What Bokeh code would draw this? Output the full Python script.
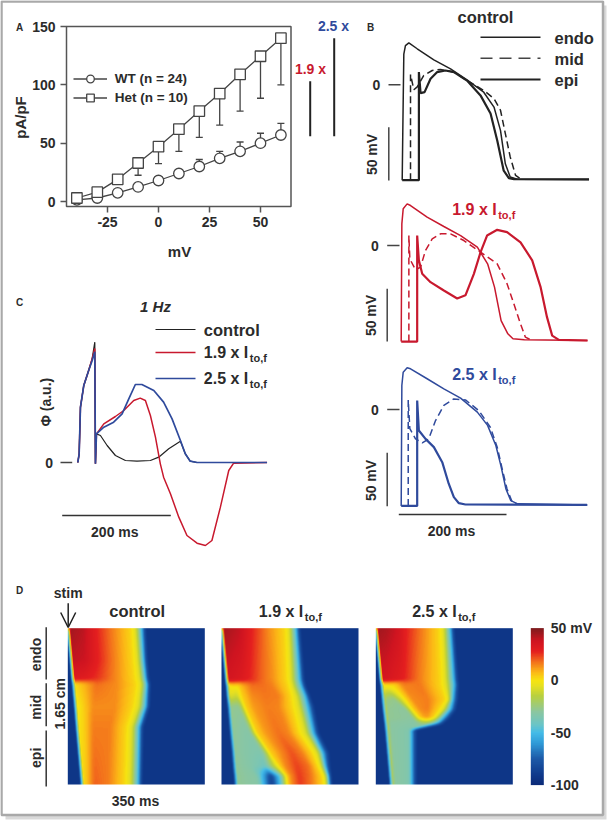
import math
import numpy as np
from bokeh.plotting import figure
from bokeh.embed import file_html
from bokeh.resources import INLINE
from bokeh.core.properties import value
from bokeh.models import (Range1d, LinearAxis, FixedTicker, Whisker, TeeHead, ColumnDataSource,
                          Legend, LegendItem, LinearColorMapper, ColorBar, Arrow, OpenHead)

# ---------- Panel A ----------
voltage = [-40, -30, -20, -10, 0, 10, 20, 30, 40, 50, 60]
wt_current = [1.4, 3, 7.4, 12.5, 18, 24, 30, 37, 43, 50, 57]
wt_upper = [1.4, 3, 7.4, 12.5, 18, 24, 36, 43, 51, 58.5, 67]
het_current = [3, 8, 19, 33, 47, 62, 77.5, 92.5, 109, 124.5, 140]
het_lower = [3, 8, 15, 22.5, 32.5, 43, 55, 65.5, 77.5, 88.5, 100]
a_xticks = [-25, 0, 25, 50]
a_yticks = [0, 50, 100, 150]
bar_19x = [56, 103]
bar_25x = [56, 140]

# ---------- Panel B (ms, mV) ----------
ctl_endo_t = [0, 1.2, 3, 6, 12.3, 27.8, 58.6, 89.5, 120, 151, 170, 182, 191, 200, 213, 346]
ctl_endo_v = [-90, -40, 29, 37, 39.6, 34, 23.6, 15, 4.7, -7, -21, -43, -74.5, -87, -89, -89.3]
ctl_mid_t = [15.4, 15.4, 21.6, 27.8, 40, 55.6, 71, 95.7, 120, 151, 170, 182, 191, 200, 210, 219]
ctl_mid_v = [-90, 9.7, -4.7, -2, 8.8, 13.5, 14.5, 12, 4, -5.3, -13, -24, -46, -68, -85.5, -88.7]
ctl_epi_t = [0, 30.9, 30.9, 34, 41.4, 52.5, 64.8, 80, 95.7, 120, 145, 163.6, 176, 188, 197.5, 207, 346]
ctl_epi_v = [-90, -90, 12, -7.9, -6.9, 5.7, 12, 13.5, 12, 4, -10, -27, -52.5, -81, -88, -89, -89.3]

r19_endo_t = [0, 1.2, 3.7, 11, 17.3, 48, 79, 110, 141, 160, 172.8, 185, 197.5, 207, 228, 345]
r19_endo_v = [-90.6, 20.4, 34.6, 39.3, 37.7, 26.7, 17.9, 9.4, -1.6, -17.3, -39.3, -70.8, -83.3, -88, -89, -89.6]
r19_mid_t = [14.2, 14.2, 16, 26.5, 35.8, 45, 57.4, 72.8, 91.4, 116, 147, 177.8, 196, 208.6, 221, 230, 242.6]
r19_mid_v = [-90.6, 9.4, -12.6, -23, -20.4, -4.7, 6.3, 11, 11, 4.7, -6.3, -17.3, -36, -55, -74, -86.5, -89.6]
r19_epi_t = [0, 29.6, 29.6, 32.7, 38.9, 54.3, 79, 103.7, 119, 134.6, 147, 159, 177.8, 196, 221, 242.6, 258, 270, 279.6, 292, 345]
r19_epi_v = [-90.6, -90.6, 9.4, -14, -26.7, -34.6, -42.5, -50, -47, -26.7, -6.3, 9.4, 14.8, 12.6, 3, -14, -39, -67.6, -85, -89, -89.6]

b25_endo_t = [0, 1.2, 3.7, 11, 17.3, 48, 79, 110, 141, 160, 175.3, 184.6, 194, 203, 215.6, 345]
b25_endo_v = [-91, 22.6, 35.2, 39.3, 38.4, 29, 19.5, 10.7, -2.5, -15, -34, -53, -75, -86, -89, -90]
b25_mid_t = [13, 13, 16, 26.5, 39, 51, 63.6, 79, 97.5, 119, 143.8, 165, 177.8, 187, 196, 205.6, 215]
b25_mid_v = [-91, 9, -18, -27.7, -31.4, -27.7, -10.4, 3.8, 10, 9, -1, -16.7, -35.5, -56, -75, -87.4, -89]
b25_epi_t = [0, 29.6, 29.6, 32.7, 45, 60.5, 76, 88, 97.5, 106.8, 119, 344]
b25_epi_v = [-91, -91, 8.5, -19.8, -27.7, -35.5, -49.7, -70, -82.7, -88.4, -89.6, -90]

# ---------- Panel C (ms, a.u.) ----------
c_ctl_t = [0, 2.5, 4.9, 11, 20, 26.4, 31.3, 32.5, 34.4, 41.7, 54, 69.3, 87.7, 109, 133.7, 149, 167.5, 189, 198, 207, 219.6, 348.5]
c_ctl_p = [0, 26, 166, 231, 276, 311, 361, -4, 86, 81, 51, 21, 6, 4, 6, 16, 41, 64, 26, 4, 0, 0]
c_red_t = [0, 2.5, 4.9, 11, 20, 26.4, 31.3, 32.5, 34.4, 47.9, 69.3, 84.7, 103, 115, 124.5, 133.7, 143, 152, 158, 170.6, 186, 201, 219.6, 235, 247, 262.6, 278, 287, 348.5]
c_red_p = [0, 26, 166, 231, 276, 311, 342, -4, 86, 116, 138, 156, 186, 193, 186, 141, 76, -4, -44, -94, -164, -219, -242, -249, -234, -134, -24, -2, 0]
c_blue_t = [0, 2.5, 4.9, 11, 20, 26.4, 31.3, 32.5, 34.4, 47.9, 66, 81.6, 93.9, 106, 118, 140, 158, 173.6, 189, 198, 207, 219.6, 348.5]
c_blue_p = [0, 26, 166, 231, 276, 305, 332, -4, 86, 106, 121, 146, 191, 234, 234, 216, 181, 131, 66, 26, 4, 0, 0]

# ---------- Panel D: per depth (cm), time samples (411 samples = 350 ms) and mV at those samples ----------
ctl_depth = [0, .34, .535, .595, .83, 1.045, 1.65]
ctl_knot_t = [[0, 1, 45, 85, 140, 190, 205, 220, 233],
              [8.5, 9.5, 50, 90, 145, 195, 212, 226, 238],
              [13, 14, 50, 90, 145, 200, 218, 232, 243],
              [15, 16, 40, 85, 145, 205, 222, 236, 247],
              [21, 22, 42, 75, 140, 195, 215, 232, 245],
              [26, 27, 48, 75, 125, 175, 195, 212, 226],
              [41, 42, 55, 80, 120, 170, 190, 210, 222]]
ctl_knot_v = [[-92, 45, 41, 28, 14, 2, -10, -50, -92],
              [-92, 40, 38, 28, 14, 2, -10, -50, -92],
              [-92, 32, 30, 25, 14, 2, -10, -50, -92],
              [-92, 0, 6, 18, 14, 2, -10, -50, -92],
              [-92, -2, 2, 14, 14, 2, -10, -50, -92],
              [-92, 0, 3, 16, 16, 2, -10, -50, -92],
              [-92, 0, 5, 20, 16, 2, -10, -50, -92]]

x19_depth = [0, .545, .61, .72, .83, 1.11, 1.32, 1.46, 1.565, 1.65]
x19_knot_t = [[0, 1, 20, 30, 40, 50, 60, 90, 120, 140, 190, 205, 222, 235],
              [14, 15, 30, 40, 50, 60, 70, 95, 125, 150, 195, 212, 233, 248],
              [15.5, 16.5, 30, 35, 40, 48, 60, 90, 125, 150, 200, 216, 238, 252],
              [18, 19, 30, 38, 45, 50, 57, 90, 130, 170, 208, 228, 250, 265],
              [21, 22, 35, 45, 52, 60, 68, 95, 135, 170, 212, 235, 257, 277],
              [28, 29, 50, 70, 85, 95, 102, 132, 170, 200, 232, 255, 274, 292],
              [34, 35, 70, 100, 120, 135, 142, 177, 210, 240, 272, 290, 302, 322],
              [37, 38, 80, 110, 130, 150, 172, 190, 225, 260, 288, 300, 310, 325],
              [40, 41, 105, 122, 147, 172, 194, 207, 232, 265, 302, 312, 320, 328],
              [42, 43, 110, 125, 150, 175, 197, 210, 235, 265, 305, 315, 322, 330]]
x19_knot_v = [[-92, 45, 43, 42, 41, 40, 38, 28, 20, 14, 2, -10, -50, -92],
              [-92, 36, 35, 34, 33, 32, 30, 25, 18, 14, 2, -10, -50, -92],
              [-92, -5, 2, 2, 2, 2, 8, 18, 18, 16, 2, -10, -50, -92],
              [-92, -8, -8, -10, -12, -8, 2, 14, 17, 16, 2, -10, -50, -92],
              [-92, -25, -28, -28, -28, -18, 2, 12, 16, 15, 2, -10, -50, -92],
              [-92, -28, -30, -32, -32, -18, 2, 12, 18, 15, 2, -10, -50, -92],
              [-92, -28, -32, -34, -34, -18, 2, 14, 22, 16, 2, -10, -50, -92],
              [-92, -28, -32, -36, -40, -20, 2, 14, 24, 18, 2, -10, -50, -92],
              [-92, -28, -32, -52, -85, -50, 2, 14, 25, 18, 2, -10, -50, -92],
              [-92, -28, -32, -52, -88, -50, 2, 14, 25, 18, 2, -10, -50, -92]]

x25_depth = [0, .545, .60, .757, .862, .95, 1.01, 1.073, 1.65]
x25_knot_t = [[0, 1, 30, 50, 70, 90, 130, 190, 205, 222, 234],
              [14, 15, 35, 55, 75, 95, 135, 195, 212, 232, 246],
              [16, 17, 24, 30, 52, 80, 130, 195, 214, 234, 248],
              [20, 21, 30, 55, 89, 110, 155, 209, 220, 229, 246],
              [23, 24, 35, 90, 109, 132, 155, 189, 205, 222, 240],
              [26, 27, 38, 110, 130, 145, 155, 172, 182, 200, 222],
              [28, 29, 40, 118, 140, 146, 152, 158, 165, 185, 200],
              [30, 31, 42, 88, 92, 96, 98, 100, 102, 105, 122],
              [44, 45, 56, 88, 92, 96, 98, 100, 102, 106, 122]]
x25_knot_v = [[-92, 45, 43, 40, 36, 28, 18, 2, -10, -50, -92],
              [-92, 36, 35, 32, 30, 25, 15, 2, -10, -50, -92],
              [-92, -5, 2, 2, 2, 15, 17, 2, -10, -50, -92],
              [-92, -8, -25, -28, 2, 14, 16, 2, -10, -50, -92],
              [-92, -8, -28, -30, 2, 14, 16, 2, -10, -50, -92],
              [-92, -8, -28, -30, 2, 10, 11, 2, -10, -50, -92],
              [-92, -8, -30, -32, -28, -26, -26, -28, -32, -52, -92],
              [-92, -8, -30, -33, -34, -34, -34, -35, -40, -52, -92],
              [-92, -8, -30, -33, -34, -34, -34, -35, -40, -52, -92]]

cmap_mv = [-100, -90, -75, -60, -50, -42, -30, -15, -5, 0, 8, 18, 28, 38, 50]
cmap_col = ["#0b2a78", "#0f3a8c", "#1d5aa8", "#2f9bd8", "#45bce8", "#6cc5c6", "#8cc6a0", "#b8d040",
            "#e8e020", "#f6e410", "#fcb816", "#f3701c", "#e51f1f", "#cf1420", "#7e1b1e"]

W, H = 607, 821
FONT = value("Liberation Sans")
INK = "#2b2b2b"
RED = "#c8192e"
BLUE = "#2f4a9c"

p = figure(width=W, height=H, x_range=Range1d(0, W), y_range=Range1d(H, 0), x_axis_type=None, y_axis_type=None,
           toolbar_location=None, output_backend="svg", min_border=0, outline_line_color=None,
           background_fill_color="white", border_fill_color="white", margin=(0, 0, 0, 0))


def add_panel(name, x0, px0, x1, px1, y0, py0, y1, py1):
    kx = (x1 - x0) / (px1 - px0)
    ky = (y1 - y0) / (py1 - py0)
    p.extra_x_ranges[name] = Range1d(x0 + (0 - px0) * kx, x0 + (W - px0) * kx)
    p.extra_y_ranges[name] = Range1d(y0 + (H - py0) * ky, y0 + (0 - py0) * ky)


def txt(x, y, s, size=14, color=INK, align="center", angle=0, style="bold"):
    p.text(x=[x], y=[y], text=[s], text_font=FONT, text_font_style=style, text_font_size=f"{size}px",
           text_color=color, text_align=align, text_baseline="middle", angle=angle)


def ito(x, y, s, color=INK, size=16):
    txt(x, y, s + " I", size, color, "left")
    txt(x + 46, y + 5, "to,f", 11, color, "left")


def rule(x0, y0, x1, y1, color=INK, width=1.5, dash="solid"):
    p.line([x0, x1], [y0, y1], line_color=color, line_width=width, line_dash=dash)


# page frame
p.quad(left=[5], right=[606], top=[5], bottom=[819], fill_color="#d9d9d9", line_color=None, level="image")
p.quad(left=[1], right=[602.5], top=[1], bottom=[814.5], fill_color="white", line_color="#a9a9a9", line_width=2.5, level="image")

# ---- A ----
add_panel("a", 0, 158, 50, 260, 0, 201, 150, 26)
p.quad(left=[66], right=[290.5], top=[26], bottom=[206], fill_color=None, line_color="#555555", line_width=1.5, level="image")
xa = LinearAxis(x_range_name="a", y_range_name="a", fixed_location=(201 - 206) / 1.1667, ticker=FixedTicker(ticks=a_xticks),
                major_label_overrides={-25: "-25"})
ya = LinearAxis(x_range_name="a", y_range_name="a", fixed_location=(66 - 158) / 2.04, ticker=FixedTicker(ticks=a_yticks))
for ax in (xa, ya):
    ax.axis_line_color = None
    ax.major_tick_line_color = "#555555"
    ax.major_tick_line_width = 1.5
    ax.major_tick_out = 6
    ax.major_tick_in = 0
    ax.minor_tick_line_color = None
    ax.major_label_text_font = "Liberation Sans"
    ax.major_label_text_font_style = "bold"
    ax.major_label_text_font_size = "14px"
    ax.major_label_text_color = INK
    ax.major_label_standoff = 5
p.add_layout(xa, "below")
p.add_layout(ya, "left")
txt(179, 251, "mV", 15)
txt(20, 117, "pA/pF", 15, angle=math.pi / 2)
src_wt = ColumnDataSource(dict(x=voltage, upper=wt_upper, lower=wt_current))
src_het = ColumnDataSource(dict(x=voltage, upper=het_current, lower=het_lower))
p.add_layout(Whisker(source=src_wt, base="x", upper="upper", lower="lower", x_range_name="a", y_range_name="a",
                     line_color="#444444", line_width=1.3, lower_head=None,
                     upper_head=TeeHead(size=7, line_color="#444444", line_width=1.3)))
p.add_layout(Whisker(source=src_het, base="x", upper="upper", lower="lower", x_range_name="a", y_range_name="a",
                     line_color="#444444", line_width=1.3, upper_head=None,
                     lower_head=TeeHead(size=7, line_color="#444444", line_width=1.3)))
l_wt = p.line(voltage, wt_current, x_range_name="a", y_range_name="a", line_color="#444444", line_width=1.3)
m_wt = p.scatter(voltage, wt_current, x_range_name="a", y_range_name="a", marker="circle", size=10.5,
                 fill_color="white", line_color="#444444", line_width=1.3)
l_het = p.line(voltage, het_current, x_range_name="a", y_range_name="a", line_color="#444444", line_width=1.3)
m_het = p.scatter(voltage, het_current, x_range_name="a", y_range_name="a", marker="square", size=10.5,
                  fill_color="white", line_color="#444444", line_width=1.3)
leg = Legend(items=[LegendItem(label="WT (n = 24)", renderers=[l_wt, m_wt]),
                    LegendItem(label="Het (n = 10)", renderers=[l_het, m_het])],
             location=(72.7, H - 106.5), orientation="vertical", background_fill_alpha=0, border_line_color=None,
             glyph_width=34, glyph_height=19, label_height=19, label_standoff=8, spacing=0, padding=0, margin=0,
             label_text_font="Liberation Sans", label_text_font_style="bold", label_text_font_size="13.5px",
             label_text_color=INK)
p.add_layout(leg, "center")
p.line([-40 + (309.7 - 76.4) / 2.04] * 2, bar_19x, x_range_name="a", y_range_name="a", line_color="#222222", line_width=2)
p.line([-40 + (333.7 - 76.4) / 2.04] * 2, bar_25x, x_range_name="a", y_range_name="a", line_color="#222222", line_width=2)
txt(19, 27, "A", 10)
txt(310, 68, "1.9 x", 14, RED)
txt(333, 25, "2.5 x", 14, BLUE)

# ---- B ----
MS = 0.54
MV = 1.06
add_panel("b1", 0, 401.7, 100, 401.7 + 100 * MS, 0, 84.3, 50, 84.3 - 50 * MV)
add_panel("b2", 0, 400.7, 100, 400.7 + 100 * MS, 0, 245, 50, 245 - 50 * MV)
add_panel("b3", 0, 400.7, 100, 400.7 + 100 * MS, 0, 409, 50, 409 - 50 * MV)
traces = [("b1", "#222222", ctl_endo_t, ctl_endo_v, ctl_mid_t, ctl_mid_v, ctl_epi_t, ctl_epi_v),
          ("b2", RED, r19_endo_t, r19_endo_v, r19_mid_t, r19_mid_v, r19_epi_t, r19_epi_v),
          ("b3", BLUE, b25_endo_t, b25_endo_v, b25_mid_t, b25_mid_v, b25_epi_t, b25_epi_v)]
for name, col, et, ev, mt, mv, st, sv in traces:
    p.line(et, ev, x_range_name=name, y_range_name=name, line_color=col, line_width=1.5)
    p.line(mt, mv, x_range_name=name, y_range_name=name, line_color=col, line_width=1.5, line_dash="7 4")
    p.line(st, sv, x_range_name=name, y_range_name=name, line_color=col, line_width=2.2)
txt(370, 26.7, "B", 10)
txt(485, 16.7, "control", 16.5)
rule(480, 36.7, 540, 36.7, "#222222", 1.5)
rule(480, 57.7, 540, 57.7, "#444444", 1.5, "12 7")
rule(480, 79, 540, 79, "#222222", 2.2)
txt(554, 37, "endo", 16.5, align="left")
txt(554, 58, "mid", 16.5, align="left")
txt(554, 79, "epi", 16.5, align="left")
txt(376, 84.3, "0", 14)
rule(388, 84.3, 400, 84.3, "#444444")
rule(388.3, 126.7, 388.3, 180, "#444444")
txt(371, 154, "50 mV", 14, angle=math.pi / 2)
txt(374.3, 245, "0", 14)
rule(386.7, 245, 399, 245, "#444444")
rule(386.7, 288.3, 386.7, 341, "#444444")
txt(370, 315, "50 mV", 14, angle=math.pi / 2)
ito(451.7, 209, "1.9 x", RED)
txt(374.3, 409, "0", 14)
rule(386.7, 409, 399, 409, "#444444")
rule(386.7, 452.3, 386.7, 505.7, "#444444")
txt(370, 480, "50 mV", 14, angle=math.pi / 2)
ito(451.7, 374, "2.5 x", BLUE)
rule(398.3, 514, 506, 514, "#333333")
txt(451, 530, "200 ms", 14)

# ---- C ----
add_panel("c", 0, 77.3, 100, 77.3 + 54.3, 0, 462, 300, 362)
p.line(c_ctl_t, c_ctl_p, x_range_name="c", y_range_name="c", line_color="#222222", line_width=1.2)
p.line(c_red_t, c_red_p, x_range_name="c", y_range_name="c", line_color=RED, line_width=1.5)
p.line(c_blue_t, c_blue_p, x_range_name="c", y_range_name="c", line_color=BLUE, line_width=1.7)
txt(19, 301.7, "C", 10)
txt(155, 306, "1 Hz", 15, style="bold italic")
rule(155, 329, 195, 329, "#222222", 1.2)
rule(155, 352, 195, 352, RED, 1.5)
rule(155, 378, 195, 378, BLUE, 1.7)
txt(203.3, 329, "control", 16.5, align="left")
ito(203.3, 352, "1.9 x")
ito(203.3, 378, "2.5 x")
txt(45, 401.7, "\u03a6 (a.u.)", 14, angle=math.pi / 2)
txt(48.7, 462, "0", 14)
rule(60, 462, 71.7, 462, "#444444")
rule(61.7, 515, 170.3, 515, "#333333")
txt(114.3, 531, "200 ms", 14)

# ---- D ----
mv_grid = np.linspace(-100, 50, 256)
rgb = np.array([[int(c[i:i + 2], 16) for i in (1, 3, 5)] for c in cmap_col], float)
palette = ["#%02x%02x%02x" % tuple(int(round(np.interp(m, cmap_mv, rgb[:, k]))) for k in range(3)) for m in mv_grid]
mapper = LinearColorMapper(palette=palette, low=-100, high=50)


def soften(a, r=4):
    kernel = np.ones(2 * r + 1) / (2 * r + 1)
    for axis in (0, 1):
        pad = [(r, r) if i == axis else (0, 0) for i in range(2)]
        a = np.apply_along_axis(lambda s: np.convolve(s, kernel, mode="valid"), axis, np.pad(a, pad, mode="edge"))
    return a


def field(depth, kt, kv, nx=274, ny=312):
    kt, kv = np.array(kt, float), np.array(kv, float)
    samples = (np.arange(nx) + .5) / nx * 411
    out = np.zeros((ny, nx))
    for j, d in enumerate((np.arange(ny) + .5) / ny * 1.65):
        t = [np.interp(d, depth, kt[:, k]) for k in range(kt.shape[1])]
        v = [np.interp(d, depth, kv[:, k]) for k in range(kv.shape[1])]
        out[j] = np.interp(samples, t, v)
    return soften(out)[::-1]


for name, px0, dep, kt, kv in (("d1", 67.3, ctl_depth, ctl_knot_t, ctl_knot_v),
                               ("d2", 221, x19_depth, x19_knot_t, x19_knot_v),
                               ("d3", 375.3, x25_depth, x25_knot_t, x25_knot_v)):
    add_panel(name, 0, px0, 350, px0 + 137, 0, 784, 1.65, 627.7)
    p.image(image=[field(dep, kt, kv)], x=0, y=0, dw=350, dh=1.65, color_mapper=mapper,
            x_range_name=name, y_range_name=name)
cb = ColorBar(color_mapper=mapper, ticker=FixedTicker(ticks=[-100, -50, 0, 50]), width=13, height=157,
              location=(530.3, H - 784.6), padding=0, margin=0, major_tick_line_color=None, minor_tick_line_color=None,
              bar_line_color=None, background_fill_alpha=0, border_line_color=None, label_standoff=7,
              major_label_overrides={50: "50 mV", -50: "-50", -100: "-100"}, major_label_text_font="Liberation Sans",
              major_label_text_font_style="bold", major_label_text_font_size="14px", major_label_text_color=INK)
p.add_layout(cb, "center")
txt(19, 590, "D", 10)
txt(67.7, 592.3, "stim", 14)
p.add_layout(Arrow(x_start=67.7, y_start=602.7, x_end=67.7, y_end=627, line_color="#222222", line_width=1.5,
                   end=OpenHead(size=15, line_color="#222222", line_width=1.5)))
txt(136.7, 610.7, "control", 16.5)
ito(258.3, 611, "1.9 x")
ito(411.7, 611, "2.5 x")
for s, yc, y0, y1 in (("endo", 654, 626.7, 679), ("mid", 706.7, 682.7, 725.7), ("epi", 757.3, 730, 786)):
    txt(35, yc, s, 14, angle=math.pi / 2)
    rule(45.7, y0, 45.7, y1, "#333333")
txt(59.3, 703.3, "1.65 cm", 14, angle=math.pi / 2)
txt(135, 800, "350 ms", 14)

open("out.html", "w").write(file_html(p, INLINE))
